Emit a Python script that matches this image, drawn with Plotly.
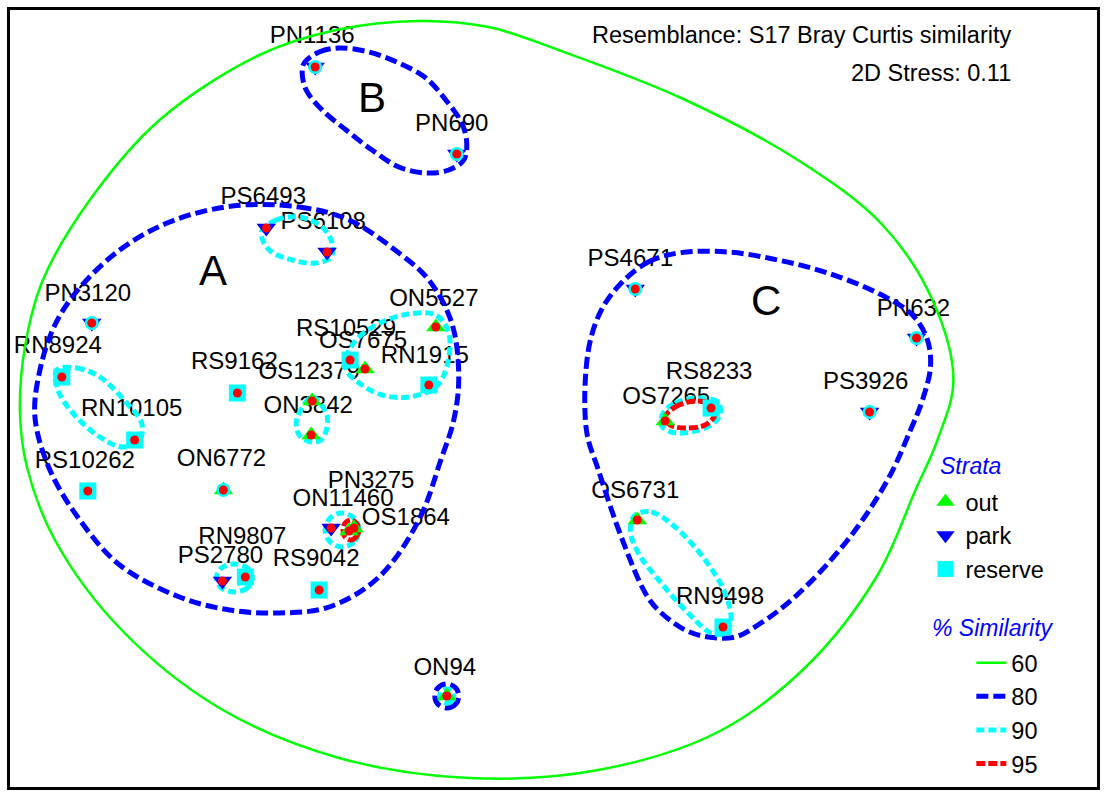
import plotly.graph_objects as go

# ---------------- data (plot-surface units) ----------------
samples = ["PN1136", "PN690", "PS6493", "PS6108", "PN3120", "RN8924", "RN10105",
           "RS10262", "RS9162", "ON6772", "ON5527", "RS10529", "OS7675", "RN1915",
           "OS12379", "ON3842", "PN3275", "ON11460", "OS1864", "RN9807", "PS2780",
           "RS9042", "ON94", "PS4671", "PN632", "PS3926", "RS8233", "OS7265",
           "OS6731", "RN9498"]
stratum = ["park", "park", "park", "park", "park", "reserve", "reserve",
           "reserve", "reserve", "out", "out", "reserve", "out", "reserve",
           "out", "out", "park", "out", "out", "reserve", "park",
           "reserve", "out", "park", "park", "park", "reserve", "out",
           "out", "reserve"]
x_pos = [316, 458, 267, 328, 92, 62, 135, 88, 238, 224, 437, 351, 366, 430,
         313, 312, 332, 350, 355, 246, 223, 320, 448, 637, 919, 872, 713, 667,
         639, 725]
y_pos = [67, 154, 228, 252, 323, 377, 440, 491, 393, 490, 327, 360, 369, 385,
         401, 435, 528, 531, 528, 577, 581, 590, 696, 289, 338, 412, 408, 421,
         520, 627]
label_x = [313, 453, 264, 324, 88, 58, 132, 85, 235, 222, 435, 347, 364, 426,
           310, 309, 372, 344, 407, 243, 221, 317, 446, 632, 916, 868, 711, 668,
           637, 722]
label_y = [37, 125, 198, 223, 295, 347, 410, 462, 363, 460, 300, 330, 342, 357,
           373, 407, 482, 500, 519, 538, 557, 560, 669, 260, 310, 383, 373, 398,
           492, 598]
single_ring = ["PN1136", "PN690", "PN3120", "ON6772", "PS4671", "PN632", "PS3926",
               "RS9162", "RS10262", "RS9042"]

strata_names = ["out", "park", "reserve"]
similarity_levels = ["60", "80", "90", "95"]

contours = {
    "60": [
        [(420, 21), (490, 27), (560, 50), (683, 98), (800, 160), (885, 225), (935, 300),
         (956, 380), (940, 440), (918, 490), (880, 575), (810, 665), (720, 732),
         (600, 770), (470, 778), (340, 758), (220, 708), (120, 628), (55, 540),
         (27, 467), (20, 413), (25, 347), (43, 280), (90, 200), (160, 120),
         (260, 55), (337, 30), (420, 21)],
    ],
    "80": [
        [(233, 206), (300, 207), (350, 220), (400, 253), (430, 280), (453, 323),
         (460, 377), (455, 420), (442, 460), (420, 520), (380, 577), (330, 607),
         (280, 613), (230, 610), (180, 597), (120, 565), (80, 520), (50, 470),
         (35, 417), (40, 370), (55, 325), (78, 290), (120, 250), (170, 222), (233, 206)],
        [(305, 63), (320, 52), (340, 48), (370, 52), (400, 63), (427, 78), (447, 100),
         (463, 123), (468, 143), (465, 160), (450, 170), (427, 173), (400, 167),
         (373, 150), (347, 130), (323, 110), (307, 90), (303, 73), (305, 63)],
        [(623, 283), (650, 262), (680, 253), (730, 252), (780, 260), (830, 273),
         (880, 293), (915, 315), (930, 340), (933, 367), (925, 400), (913, 430),
         (890, 480), (850, 540), (797, 597), (760, 625), (737, 637), (710, 637),
         (687, 630), (660, 610), (647, 593), (623, 537), (600, 470), (588, 430),
         (590, 350), (603, 310), (623, 283)],
        [(460, 696), (457, 704), (448, 708), (439, 704), (436, 696), (439, 688),
         (448, 684), (457, 688), (460, 696)],
    ],
    "90": [
        [(262, 232), (277, 220), (300, 217), (323, 227), (333, 243), (332, 257),
         (317, 263), (293, 260), (270, 250), (262, 232)],
        [(57, 370), (77, 368), (100, 377), (127, 403), (142, 423), (140, 440),
         (123, 447), (100, 437), (73, 413), (58, 390), (57, 370)],
        [(347, 357), (360, 337), (383, 322), (410, 314), (437, 315), (450, 333),
         (448, 367), (437, 387), (410, 397), (383, 395), (360, 383), (347, 370), (347, 357)],
        [(300, 413), (313, 397), (327, 413), (328, 427), (322, 440), (312, 442),
         (300, 435), (297, 423), (300, 413)],
        [(360, 530), (355, 542), (343, 547), (331, 542), (326, 530), (331, 518),
         (343, 513), (355, 518), (360, 530)],
        [(253, 578), (248, 588), (235, 592), (222, 588), (217, 578), (222, 568),
         (235, 564), (248, 568), (253, 578)],
        [(665, 413), (677, 403), (697, 398), (720, 402), (722, 415), (713, 425),
         (693, 432), (673, 432), (663, 425), (665, 413)],
        [(637, 515), (653, 512), (677, 527), (707, 560), (727, 593), (733, 620),
         (727, 633), (713, 633), (690, 613), (663, 583), (640, 553), (632, 530), (637, 515)],
        [(455, 696), (453, 701), (448, 703), (443, 701), (441, 696), (443, 691),
         (448, 689), (453, 691), (455, 696)],
    ],
    "95": [
        [(667, 417), (677, 407), (697, 401), (715, 405), (717, 415), (707, 425),
         (687, 428), (672, 425), (667, 417)],
        [(360, 530), (357, 537), (352, 540), (346, 537), (344, 530), (346, 523),
         (352, 520), (357, 523), (360, 530)],
    ],
}

# ---------------- styles ----------------
FONT = "Arial, 'Liberation Sans', sans-serif"
strata_style = {
    "out": dict(symbol="triangle-up", color="#00FF00"),
    "park": dict(symbol="triangle-down", color="#0000FF"),
    "reserve": dict(symbol="square", color="#00FFFF"),
}
level_style = {
    "60": dict(color="#00FF00", width=2.5, dash="solid"),
    "80": dict(color="#0000FF", width=5, dash="12px,5px"),
    "90": dict(color="#00FFFF", width=5, dash="8px,4px"),
    "95": dict(color="#FF0000", width=5, dash="9px,3px"),
}

fig = go.Figure()

# sample labels (under the contours, as in the original)
fig.add_trace(go.Scatter(
    x=label_x, y=label_y, mode="text", text=samples,
    textfont=dict(family=FONT, size=24, color="black"),
    textposition="middle center", showlegend=False, hoverinfo="skip"))

# similarity contours
for lev in similarity_levels:
    xs, ys = [], []
    for poly in contours[lev]:
        xs += [p[0] for p in poly] + [None]
        ys += [p[1] for p in poly] + [None]
    st = level_style[lev]
    fig.add_trace(go.Scatter(
        x=xs, y=ys, mode="lines", name=lev, legend="legend2",
        line=dict(color=st["color"], width=st["width"], dash=st["dash"],
                  shape="spline", smoothing=1.0),
        connectgaps=False, hoverinfo="skip"))

# strata symbols
for s in strata_names:
    idx = [i for i, v in enumerate(stratum) if v == s]
    fig.add_trace(go.Scatter(
        x=[x_pos[i] for i in idx], y=[y_pos[i] for i in idx], mode="markers",
        name=s, legend="legend",
        marker=dict(symbol=strata_style[s]["symbol"], color=strata_style[s]["color"],
                    size=17, line=dict(width=0)),
        hovertext=[samples[i] for i in idx], hoverinfo="text"))

# single-sample 90% rings
ridx = [i for i, n in enumerate(samples) if n in single_ring]
fig.add_trace(go.Scatter(
    x=[x_pos[i] for i in ridx], y=[y_pos[i] for i in ridx], mode="markers",
    marker=dict(symbol="circle", color="#00FFFF", size=14, line=dict(width=0)),
    showlegend=False, hoverinfo="skip"))

# red sample dots
fig.add_trace(go.Scatter(
    x=x_pos, y=y_pos, mode="markers",
    marker=dict(symbol="circle", color="#FF0000", size=9, line=dict(width=0)),
    showlegend=False, hovertext=samples, hoverinfo="text"))

W, H = 1106, 797
ML, MR, MT, MB = 10, 6, 10, 10
PW, PH = W - ML - MR, H - MT - MB


def px2paper_x(px):
    return (px - ML) / PW


def px2paper_y(py):
    return (H - MB - py) / PH


annotations = [
    dict(x=214, y=270, text="A", font=dict(size=42)),
    dict(x=373, y=97, text="B", font=dict(size=42)),
    dict(x=768, y=300, text="C", font=dict(size=42)),
    dict(x=1016, y=35, text="Resemblance: S17 Bray Curtis similarity",
         font=dict(size=23.5), xanchor="right"),
    dict(x=1016, y=73, text="2D Stress: 0.11", font=dict(size=23.5), xanchor="right"),
]
for a in annotations:
    a.setdefault("xanchor", "center")
    a.update(xref="x", yref="y", showarrow=False, yanchor="middle")
    a["font"].update(family=FONT, color="black")

# legend headings
for txt, px, py in [("Strata", 941, 466), ("% Similarity", 933, 628)]:
    annotations.append(dict(
        x=px2paper_x(px), y=px2paper_y(py), xref="paper", yref="paper",
        text=txt, showarrow=False, xanchor="left", yanchor="middle",
        font=dict(family=FONT, size=23, color="#0000FF", style="italic")))

fig.update_layout(
    width=W, height=H, autosize=False,
    margin=dict(l=ML, r=MR, t=MT, b=MB, pad=0),
    paper_bgcolor="white", plot_bgcolor="white",
    font=dict(family=FONT, color="black"),
    annotations=annotations,
    xaxis=dict(range=[ML, W - MR], showgrid=False, zeroline=False, showticklabels=False,
               ticks="", showline=True, mirror=True, linewidth=3, linecolor="black",
               fixedrange=True),
    yaxis=dict(range=[H - MB, MT], showgrid=False, zeroline=False, showticklabels=False,
               ticks="", showline=True, mirror=True, linewidth=3, linecolor="black",
               fixedrange=True),
    legend=dict(x=px2paper_x(928), xanchor="left", y=px2paper_y(480), yanchor="top",
                bgcolor="rgba(0,0,0,0)", borderwidth=0,
                font=dict(family=FONT, size=23.5, color="black")),
    legend2=dict(x=px2paper_x(974), xanchor="left", y=px2paper_y(641), yanchor="top",
                 bgcolor="rgba(0,0,0,0)", borderwidth=0,
                 font=dict(family=FONT, size=23.5, color="black")),
    showlegend=True,
)

fig.write_html("out.html", config={"displayModeBar": False},
               post_script="document.body.style.margin='0';")
